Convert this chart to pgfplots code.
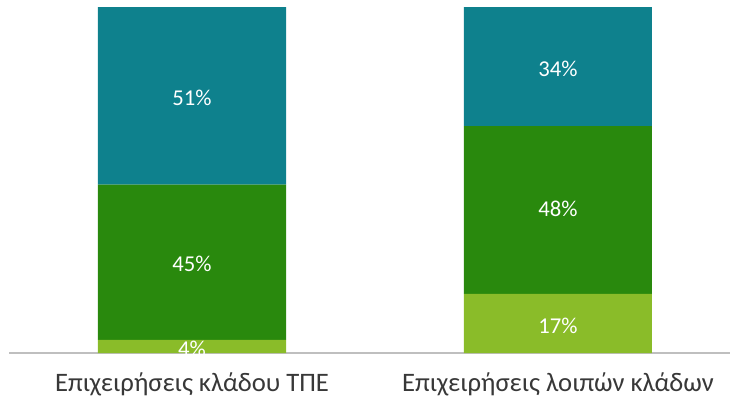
\documentclass[border=0pt]{standalone}
\usepackage{fontspec}
\setmainfont{Carlito}
\usepackage{pgfplots}
\pgfplotsset{compat=1.18}
\definecolor{tealtop}{RGB}{14,129,141}
\definecolor{greenmid}{RGB}{41,137,13}
\definecolor{greenlow}{RGB}{138,188,41}
\pgfplotsset{
    panel/.style={
        at={(0,0)}, anchor=south west,
        scale only axis,
        width=540.75pt, height=259.5pt,
        xmin=-0.5, xmax=1.47,
        ymin=0, ymax=100,
        clip=false,
    },
}
\begin{document}
\begin{tikzpicture}
% bars
\begin{axis}[
    panel,
    ybar stacked,
    bar width=141pt,
    axis y line=none,
    axis x line*=bottom,
    x axis line style={draw=black!25, line width=1pt, -},
    xtick=data,
    xticklabels={Επιχειρήσεις κλάδου ΤΠΕ, Επιχειρήσεις λοιπών κλάδων},
    major tick length=0pt,
    xticklabel style={font=\fontsize{20}{22}\selectfont, text=black!78, anchor=base, yshift=-29pt},
]
    \addplot[fill=greenlow, draw=none] coordinates {(0,3.8) (1,17.1)};
    \addplot[fill=greenmid, draw=none] coordinates {(0,44.9) (1,48.5)};
    \addplot[fill=tealtop, draw=none] coordinates {(0,51.3) (1,34.4)};
\end{axis}
% value labels at the middle of each segment
\begin{axis}[
    panel,
    axis lines=none,
    ticks=none,
    point meta=explicit symbolic,
    nodes near coords,
    nodes near coords align=center,
    every node near coord/.append style={text=white, anchor=center, inner sep=0pt,
        yshift=-1.5pt, font=\fontsize{17}{18}\selectfont},
]
    \addplot[draw=none, mark=none] coordinates {(0,1.9) [4\%] (1,8.55) [17\%]};
    \addplot[draw=none, mark=none] coordinates {(0,26.35) [45\%] (1,42.35) [48\%]};
    \addplot[draw=none, mark=none] coordinates {(0,74.35) [51\%] (1,82.8) [34\%]};
\end{axis}
\pgfresetboundingbox
\path[use as bounding box] (-6.75pt,-39pt) rectangle (540.75pt,264.75pt);
\end{tikzpicture}
\end{document}
